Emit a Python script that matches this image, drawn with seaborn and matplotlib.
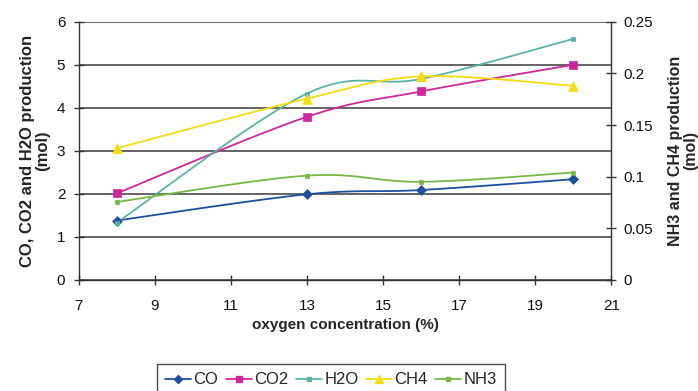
import numpy as np
import pandas as pd
import seaborn as sns
import matplotlib
matplotlib.use("Agg")
import matplotlib.pyplot as plt
from matplotlib.lines import Line2D

# Oxygen concentration (%) and measured production (mol)
oxygen = [8, 13, 16, 20]
co = [1.38, 1.99, 2.09, 2.34]
co2 = [2.01, 3.79, 4.38, 5.00]
h2o = [1.33, 4.33, 4.67, 5.60]
ch4 = [0.1275, 0.1755, 0.197, 0.188]
nh3 = [0.0755, 0.101, 0.095, 0.104]

x_ticks = [7, 9, 11, 13, 15, 17, 19, 21]
left_ticks = [0, 1, 2, 3, 4, 5, 6]
right_ticks = [0, 0.05, 0.1, 0.15, 0.2, 0.25]
right_tick_labels = ["0", "0.05", "0.1", "0.15", "0.2", "0.25"]


def smooth_curve(xs, ys, n=40):
    """Bezier smoothing through every point (spreadsheet-style smoothed line)."""
    p = np.column_stack([xs, ys]).astype(float)
    ext = np.vstack([p[0], p, p[-1]])
    t = np.linspace(0, 1, n)[:, None]
    out = []
    for i in range(len(p) - 1):
        p0, p1, p2, p3 = ext[i], ext[i + 1], ext[i + 2], ext[i + 3]
        c1 = p1 + (p2 - p0) / 6.0
        c2 = p2 - (p3 - p1) / 6.0
        seg = ((1 - t) ** 3) * p1 + 3 * ((1 - t) ** 2) * t * c1 + 3 * (1 - t) * t ** 2 * c2 + t ** 3 * p2
        out.append(seg if i == 0 else seg[1:])
    curve = np.vstack(out)
    return curve[:, 0], curve[:, 1]


sns.set_theme(style="white")
plt.rcParams["font.family"] = ["Liberation Sans", "DejaVu Sans"]

fig = plt.figure(figsize=(6.98, 3.91), dpi=100)
ax = fig.add_axes([0.1125, 0.284, 0.7635, 0.6605])
ax2 = ax.twinx()

styles = {
    "CO": dict(color="#1F4FA0", marker="D", ms=5),
    "CO2": dict(color="#D0269A", marker="s", ms=6),
    "H2O": dict(color="#5AB3A8", marker="s", ms=3),
    "CH4": dict(color="#F2DD12", marker="^", ms=7),
    "NH3": dict(color="#7AB648", marker="s", ms=3.5),
}
series = [("CO", co, ax), ("CO2", co2, ax), ("H2O", h2o, ax),
          ("CH4", ch4, ax2), ("NH3", nh3, ax2)]

for name, vals, a in series:
    st = styles[name]
    cx, cy = smooth_curve(oxygen, vals)
    sns.lineplot(x=cx, y=cy, ax=a, color=st["color"], linewidth=1.3,
                 sort=False, estimator=None, legend=False, zorder=3)
    sns.scatterplot(x=oxygen, y=vals, ax=a, color=st["color"], marker=st["marker"],
                    s=st["ms"] ** 2, edgecolor=st["color"], linewidth=0.5,
                    legend=False, zorder=4)

ax.set_xlim(7, 21)
ax.set_ylim(0, 6)
ax2.set_ylim(0, 0.25)
ax.set_xticks(x_ticks)
ax.set_xticklabels([str(v) for v in x_ticks])
ax.set_yticks(left_ticks)
ax.set_yticklabels([str(v) for v in left_ticks])
ax2.set_yticks(right_ticks)
ax2.set_yticklabels(right_tick_labels)

ax.grid(False)
ax2.grid(False)
ax.yaxis.grid(True, color="#4a4a4a", linewidth=1.2)
ax.set_axisbelow(True)

for a in (ax, ax2):
    a.spines["top"].set_visible(False)
    for side in ("left", "right", "bottom"):
        a.spines[side].set_color("#333333")
        a.spines[side].set_linewidth(1.0)
ax.spines["right"].set_visible(False)
ax2.spines["left"].set_visible(False)
ax2.spines["bottom"].set_visible(False)

tick_kw = dict(direction="inout", length=7, width=1.0, color="#333333",
               labelsize=11, labelcolor="#111111")
ax.tick_params(axis="both", **tick_kw)
ax.tick_params(axis="x", pad=10, bottom=True)
ax.tick_params(axis="y", pad=6, left=True)
ax2.tick_params(axis="y", right=True, pad=5, **tick_kw)

ax.set_xlabel("oxygen concentration (%)", fontsize=11, fontweight="bold", labelpad=4)
ax.set_ylabel("CO, CO2 and H2O production\n(mol)", fontsize=12, fontweight="bold",
              labelpad=5, linespacing=1.0)
ax2.set_ylabel("NH3 and CH4 production\n(mol)", fontsize=11.5, fontweight="bold",
               rotation=90, labelpad=11, linespacing=1.0)

handles = [Line2D([], [], color=styles[n]["color"], marker=styles[n]["marker"],
                  markersize=styles[n]["ms"] * 0.75, linewidth=1.3, label=n)
           for n in ["CO", "CO2", "H2O", "CH4", "NH3"]]
leg = fig.legend(handles=handles, loc="lower center", bbox_to_anchor=(0.474, -0.012),
                 ncol=5, frameon=True, fontsize=12, handlelength=1.55,
                 handletextpad=0.15, columnspacing=0.45, borderpad=0.5,
                 borderaxespad=0.0, fancybox=False)
leg.get_frame().set_edgecolor("#222222")
leg.get_frame().set_linewidth(1.0)

fig.savefig("out.png", dpi=100)
